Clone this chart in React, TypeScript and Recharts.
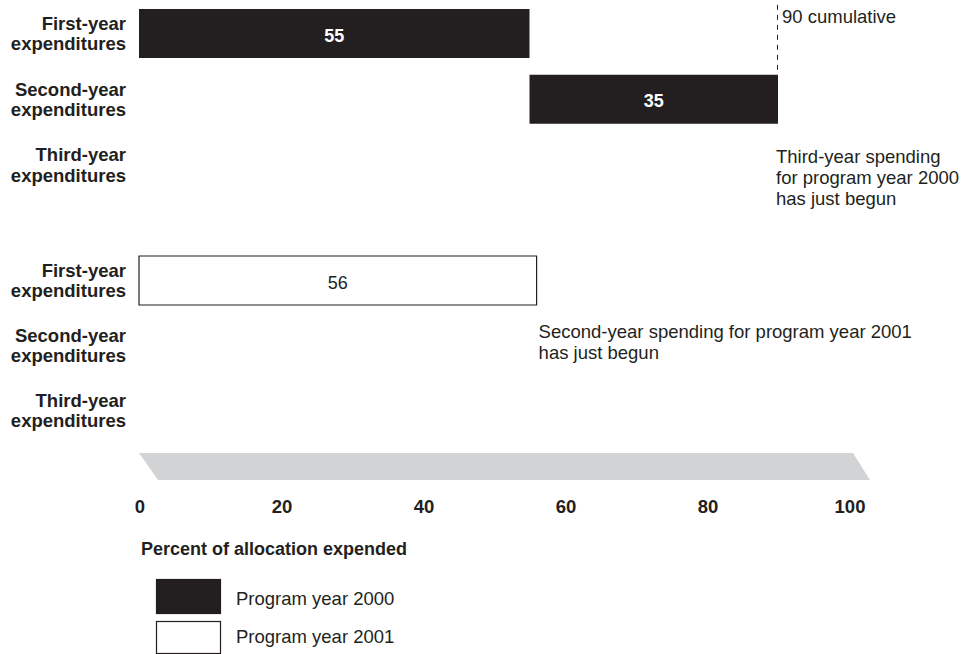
import React from 'react';
import { BarChart, Bar, XAxis, YAxis, LabelList, ReferenceDot } from 'recharts';

const INK = '#231f20';
const FONT = '"Liberation Sans", Arial, Helvetica, sans-serif';

// rows of the two blocks (same three stages for both program years)
const rowLabels = ['First-year expenditures', 'Second-year expenditures', 'Third-year expenditures'];
const start2000 = [0, 55, 0];
const spent2000 = [55, 35, 0];
const start2001 = [0, 0, 0];
const spent2001 = [56, 0, 0];
const xTicks = [0, 20, 40, 60, 80, 100];
const cumulative2000 = 90;
const note2000 = ['Third-year spending', 'for program year 2000', 'has just begun'];
const note2001 = ['Second-year spending for program year 2001', 'has just begun'];
const axisTitle = 'Percent of allocation expended';
const legendItems = [
  { label: 'Program year 2000', fill: INK },
  { label: 'Program year 2001', fill: '#ffffff' },
];

const data2000 = rowLabels.map((row, i) => ({ row, start: start2000[i], spent: spent2000[i] }));
const data2001 = rowLabels.map((row, i) => ({ row, start: start2001[i], spent: spent2001[i] }));

const RowTick = (props: any) => {
  const { x, y, payload } = props;
  const [first, second] = String(payload.value).split(' ');
  return (
    <text textAnchor="end" fontFamily={FONT} fontWeight="bold" fontSize={18.5} fill={INK}>
      <tspan x={x - 13} y={y - 4}>{first}</tspan>
      <tspan x={x - 13} y={y + 16.5}>{second}</tspan>
    </text>
  );
};

const PercentTick = (props: any) => {
  const { x, y, payload } = props;
  return (
    <text x={x + 1} y={y + 70} textAnchor="middle" fontFamily={FONT} fontWeight="bold" fontSize={18.5} fill={INK}>
      {payload.value}
    </text>
  );
};

const AxisBand = (props: any) => {
  const { x, y, width } = props.viewBox;
  const top = y + 10;
  const bottom = y + 37;
  const pts = `${x},${top} ${x + width + 4},${top} ${x + width + 21},${bottom} ${x + 19},${bottom}`;
  return (
    <g>
      <polygon points={pts} fill="#d1d3d4" />
      <text x={x + 2} y={y + 112} fontFamily={FONT} fontWeight="bold" fontSize={18} fill={INK}>
        {axisTitle}
      </text>
    </g>
  );
};

const barLabel = (bold: boolean, color: string) => (p: any) => {
  if (!p.value) return null;
  return (
    <text
      x={p.x + p.width / 2}
      y={p.y + p.height / 2 + 8}
      textAnchor="middle"
      fontFamily={FONT}
      fontWeight={bold ? 'bold' : 'normal'}
      fontSize={18}
      fill={color}
    >
      {p.value}
    </text>
  );
};

// dashed marker at the cumulative total, from the chart top down to the second-year bar
const CumulativeMark = (p: any) => {
  const lx = Math.round(p.cx) - 0.5;
  return (
    <g>
      <line x1={lx} x2={lx} y1={p.cy - 29} y2={p.cy + 41} stroke={INK} strokeWidth={1} strokeDasharray="5 5" />
      <text x={p.cx + 4} y={p.cy - 11} fontFamily={FONT} fontSize={18.5} fill={INK}>
        {cumulative2000} cumulative
      </text>
    </g>
  );
};

const noteShape = (lines: string[], dx: number, firstDy: number) => (p: any) => (
  <text fontFamily={FONT} fontSize={18.5} fill={INK}>
    {lines.map((l, i) => (
      <tspan key={i} x={p.cx + dx} y={p.cy + firstDy + i * 20.8}>{l}</tspan>
    ))}
  </text>
);

const App: React.FC = () => {
  return (
    <div style={{ position: 'absolute', left: 0, top: 0, width: 978, height: 654, background: '#fff', overflow: 'hidden' }}>
      <div style={{ position: 'absolute', left: 0, top: 1 }}>
        <BarChart
          layout="vertical"
          width={978}
          height={240}
          data={data2000}
          margin={{ top: 0, right: 129, bottom: 43, left: 0 }}
          barSize={49}
        >
          <XAxis type="number" domain={[0, 100]} hide />
          <YAxis
            type="category"
            dataKey="row"
            width={139}
            interval={0}
            tickLine={false}
            axisLine={false}
            tickSize={0}
            tickMargin={0}
            tick={<RowTick />}
          />
          <Bar dataKey="start" stackId="s" fill="transparent" isAnimationActive={false} />
          <Bar dataKey="spent" stackId="s" fill={INK} isAnimationActive={false}>
            <LabelList dataKey="spent" content={barLabel(true, '#ffffff')} />
          </Bar>
          <ReferenceDot x={cumulative2000} y={rowLabels[0]} r={0} ifOverflow="visible" shape={CumulativeMark} />
          <ReferenceDot x={cumulative2000} y={rowLabels[2]} r={0} ifOverflow="visible" shape={noteShape(note2000, -2, -2)} />
        </BarChart>
      </div>

      <div style={{ position: 'absolute', left: 0, top: 248 }}>
        <BarChart
          layout="vertical"
          width={978}
          height={330}
          data={data2001}
          margin={{ top: 0, right: 129, bottom: 0, left: 0 }}
          barSize={49}
        >
          <XAxis
            type="number"
            domain={[0, 100]}
            ticks={xTicks}
            interval={0}
            height={135}
            tickLine={false}
            axisLine={false}
            tickSize={0}
            tickMargin={0}
            tick={<PercentTick />}
            label={{ content: AxisBand }}
          />
          <YAxis
            type="category"
            dataKey="row"
            width={139}
            interval={0}
            tickLine={false}
            axisLine={false}
            tickSize={0}
            tickMargin={0}
            tick={<RowTick />}
          />
          <Bar dataKey="start" stackId="s" fill="transparent" isAnimationActive={false} />
          <Bar dataKey="spent" stackId="s" fill="#ffffff" stroke={INK} strokeWidth={1.2} isAnimationActive={false}>
            <LabelList dataKey="spent" content={barLabel(false, INK)} />
          </Bar>
          <ReferenceDot x={spent2001[0]} y={rowLabels[1]} r={0} ifOverflow="visible" shape={noteShape(note2001, 2, -7.5)} />
        </BarChart>
      </div>

      <svg style={{ position: 'absolute', left: 0, top: 0 }} width={978} height={654} pointerEvents="none">
        {legendItems.map((item, i) => (
          <g key={item.label}>
            <rect
              x={156.5}
              y={579.5 + i * 42}
              width={64}
              height={i === 0 ? 34 : 32}
              fill={item.fill}
              stroke={INK}
              strokeWidth={1.2}
            />
            <text x={236} y={605 + i * 38} fontFamily={FONT} fontSize={18.5} fill={INK}>
              {item.label}
            </text>
          </g>
        ))}
      </svg>
    </div>
  );
};

export default App;
